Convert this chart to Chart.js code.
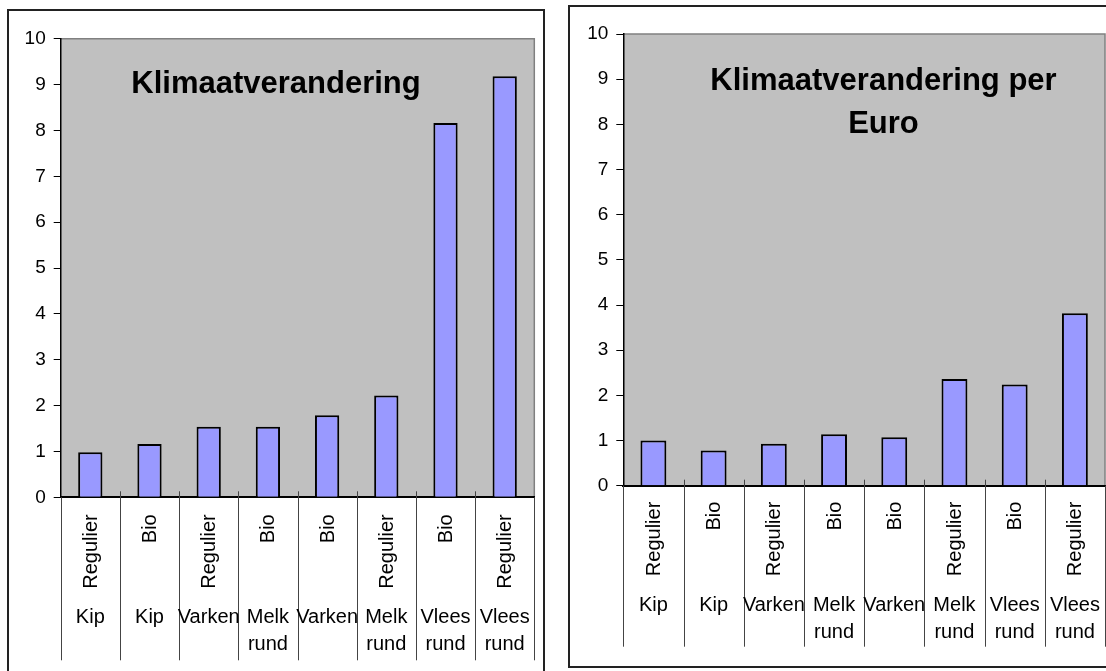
<!DOCTYPE html>
<html>
<head>
<meta charset="utf-8">
<script src="https://cdn.jsdelivr.net/npm/chart.js@4/dist/chart.umd.min.js"></script>
<style>
  html, body { margin: 0; padding: 0; background: #fff; width: 1106px; height: 671px; overflow: hidden; }
  .panel { position: absolute; box-sizing: border-box; border: 2px solid #222; background: #fff; }
  canvas { position: absolute; left: 0; top: 0; }
</style>
</head>
<body>
<div class="panel" style="left:7px; top:9px; width:538px; height:680px;"></div>
<div class="panel" style="left:568px; top:5px; width:700px; height:663px;"></div>
<canvas id="c1" width="1106" height="671"></canvas>
<canvas id="c2" width="1106" height="671"></canvas>
<script>
// ---- data ----
const groups1 = [["Kip"], ["Kip"], ["Varken"], ["Melk", "rund"], ["Varken"], ["Melk", "rund"], ["Vlees", "rund"], ["Vlees", "rund"]];
const types1 = ["Regulier", "Bio", "Regulier", "Bio", "Bio", "Regulier", "Bio", "Regulier"];
const values1 = [0.98, 1.16, 1.54, 1.54, 1.79, 2.22, 8.16, 9.18];

const groups2 = [["Kip"], ["Kip"], ["Varken"], ["Melk", "rund"], ["Varken"], ["Melk", "rund"], ["Vlees", "rund"], ["Vlees", "rund"]];
const types2 = ["Regulier", "Bio", "Regulier", "Bio", "Bio", "Regulier", "Bio", "Regulier"];
const values2 = [1.00, 0.78, 0.93, 1.14, 1.07, 2.36, 2.24, 3.82];

const title1 = ["Klimaatverandering"];
const title2 = ["Klimaatverandering per", "Euro"];
const yTicks = [0, 1, 2, 3, 4, 5, 6, 7, 8, 9, 10];

const FONT = '"Liberation Sans", Arial, Helvetica, sans-serif';

const panelPlugin = {
  id: 'panel',
  beforeDraw(chart, args, o) {
    const { ctx, chartArea: a } = chart;
    ctx.save();
    ctx.fillStyle = '#C0C0C0';
    ctx.fillRect(a.left, a.top, a.right - a.left, a.bottom - a.top);
    ctx.strokeStyle = '#808080';
    ctx.lineWidth = 1.5;
    ctx.beginPath();
    ctx.moveTo(a.left, a.top);
    ctx.lineTo(a.right, a.top);
    ctx.lineTo(a.right, a.bottom);
    ctx.stroke();
    ctx.restore();
  },
  afterDraw(chart, args, o) {
    const { ctx, chartArea: a } = chart;
    const xs = chart.scales.x;
    const n = o.types.length;
    const step = (a.right - a.left) / n;
    ctx.save();
    // title
    ctx.fillStyle = '#000';
    ctx.font = 'bold ' + o.titleSize + 'px ' + FONT;
    ctx.textAlign = 'center';
    ctx.textBaseline = 'alphabetic';
    o.title.forEach((t, i) => ctx.fillText(t, o.titleX, o.titleY + i * o.titleLine));
    // dividers
    ctx.strokeStyle = '#444';
    ctx.lineWidth = 1;
    for (let i = 0; i <= n; i++) {
      const x = Math.round(a.left + i * step) + 0.5;
      ctx.beginPath();
      ctx.moveTo(x, (i === 0 || i === n) ? a.bottom : a.bottom - 6);
      ctx.lineTo(x, a.bottom + o.divLen);
      ctx.stroke();
    }
    // labels
    ctx.fillStyle = '#000';
    ctx.font = o.labelSize + 'px ' + FONT;
    for (let i = 0; i < n; i++) {
      const cx = xs.getPixelForValue(i);
      ctx.save();
      ctx.translate(cx, a.bottom + o.typeOff);
      ctx.rotate(-Math.PI / 2);
      ctx.textAlign = 'right';
      ctx.textBaseline = 'middle';
      ctx.fillText(o.types[i], 0, 1);
      ctx.restore();
      ctx.textAlign = 'center';
      ctx.textBaseline = 'alphabetic';
      o.groups[i].forEach((g, j) => ctx.fillText(g, cx, a.bottom + o.groupOff + j * 27));
    }
    ctx.restore();
  }
};

function makeChart(id, values, groups, types, geom, plug) {
  return new Chart(document.getElementById(id), {
    type: 'bar',
    data: {
      labels: types.map((t, i) => groups[i].join(' ') + ' ' + t),
      datasets: [{
        data: values,
        backgroundColor: '#9999FF',
        borderColor: '#000',
        borderWidth: 2,
        barPercentage: geom.bar,
        categoryPercentage: 1
      }]
    },
    options: {
      responsive: false,
      animation: false,
      devicePixelRatio: 1,
      layout: { padding: { top: geom.T, right: 1106 - geom.R, bottom: 0, left: 0 } },
      plugins: {
        legend: { display: false },
        tooltip: { enabled: false },
        title: { display: false },
        panel: plug
      },
      scales: {
        x: {
          ticks: { display: false },
          grid: { display: false, drawTicks: false },
          border: { display: true, color: '#000', width: 2 },
          afterFit(s) { s.height = 671 - geom.B; }
        },
        y: {
          min: 0, max: 10,
          afterBuildTicks(s) { s.ticks = yTicks.map(v => ({ value: v })); },
          ticks: { color: '#000', font: { family: FONT, size: 19 }, padding: 8 },
          grid: { drawOnChartArea: false, drawTicks: true, tickLength: 7, color: '#000', lineWidth: 1 },
          border: { display: true, color: '#000', width: 1.5 },
          afterFit(s) { s.width = geom.L; }
        }
      }
    },
    plugins: [panelPlugin]
  });
}

makeChart('c1', values1, groups1, types1,
  { L: 60.7, T: 38.7, R: 534.3, B: 497.3, bar: 0.41 },
  { title: title1, titleX: 276, titleY: 92.5, titleLine: 43, titleSize: 31, labelSize: 20,
    types: types1, groups: groups1, typeOff: 17, groupOff: 126, divLen: 163 });

makeChart('c2', values2, groups2, types2,
  { L: 623.3, T: 34, R: 1105, B: 485.7, bar: 0.43 },
  { title: title2, titleX: 883.5, titleY: 89.5, titleLine: 43, titleSize: 31, labelSize: 20,
    types: types2, groups: groups2, typeOff: 16, groupOff: 125, divLen: 161 });
</script>
</body>
</html>
